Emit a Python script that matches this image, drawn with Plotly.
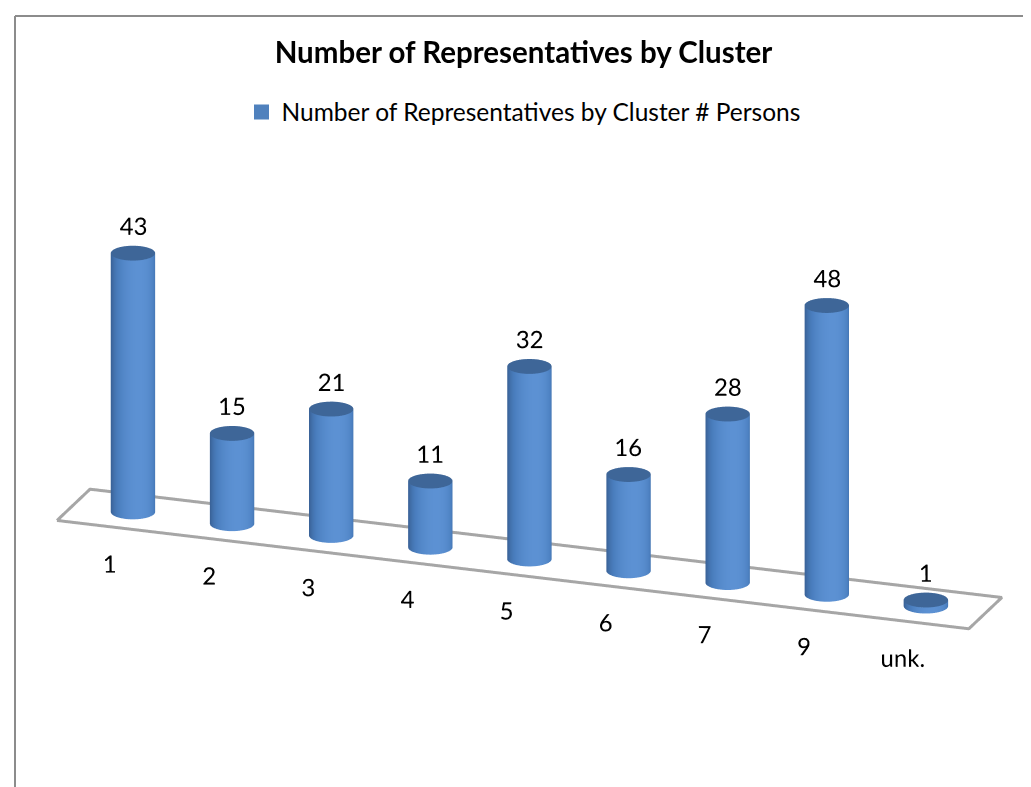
import numpy as np
import plotly.graph_objects as go

categories = ["1", "2", "3", "4", "5", "6", "7", "9", "unk."]
values = [43, 15, 21, 11, 32, 16, 28, 48, 1]
series_name = "Number of Representatives by Cluster # Persons"
title_text = "Number of Representatives by Cluster"

SIDE_SCALE = [[0, "#3A6399"], [0.55, "#4A7EBE"], [1, "#5C91D3"]]
CAP = "#3E6698"
FONT = "Lato"

# approx px per data unit, used only to keep the cylinders round
px_x, px_y, px_z = 104.2, 98.0, 6.33
REF = 984.4
xf = [-0.6, len(categories) - 0.4]      # floor extent
xr = [-0.9, 8.98]
yr = [-0.7, 1.1]
zr = [-14, 56]
wx = (xr[1] - xr[0]) * px_x
wy = (yr[1] - yr[0]) * px_y
wz = (zr[1] - zr[0]) * px_z
S = 3.08  # overall zoom (orthographic)

phi = np.radians(19.5)
th = np.radians(19.6)
R = 1.35

r_px = 22.0
rx, ry = r_px / px_x, r_px / px_y

fig = go.Figure()
t = np.linspace(0, 2 * np.pi, 96)
t_hi = -np.pi / 2 + phi + np.radians(15)
shade = np.clip(np.cos(t - t_hi), 0, 1)
for i, v in enumerate(values):
    cx, cy = i, 0.5
    X = np.vstack([cx + rx * np.cos(t)] * 2)
    Y = np.vstack([cy + ry * np.sin(t)] * 2)
    Z = np.vstack([np.zeros_like(t), np.full_like(t, v)])
    fig.add_trace(go.Surface(
        x=X, y=Y, z=Z, surfacecolor=np.vstack([shade, shade]),
        colorscale=SIDE_SCALE, cmin=0, cmax=1, showscale=False,
        hoverinfo="skip",
        lighting=dict(ambient=1.0, diffuse=0.0, specular=0.0, fresnel=0.0),
    ))
    rr = np.linspace(0, 1, 2)
    Xc = cx + np.outer(rr, rx * np.cos(t))
    Yc = cy + np.outer(rr, ry * np.sin(t))
    Zc = np.full_like(Xc, v)
    fig.add_trace(go.Surface(
        x=Xc, y=Yc, z=Zc, surfacecolor=np.ones_like(Zc),
        colorscale=[[0, CAP], [1, CAP]], cmin=0, cmax=1, showscale=False,
        hoverinfo="skip",
        lighting=dict(ambient=1.0, diffuse=0.0, specular=0.0),
    ))

# floor outline
fx = [xf[0], xf[1], xf[1], xf[0], xf[0]]
fy = [0, 0, 1, 1, 0]
fig.add_trace(go.Scatter3d(x=fx, y=fy, z=[0] * 5, mode="lines",
                           line=dict(color="#A6A6A6", width=6),
                           hoverinfo="skip", showlegend=False))

idx = list(range(len(categories)))
fig.add_trace(go.Scatter3d(x=idx, y=[0.5] * len(idx), z=[v + 4.5 for v in values],
                           mode="text", text=[str(v) for v in values],
                           textposition="middle center",
                           textfont=dict(family=FONT, size=24, color="black"),
                           hoverinfo="skip", showlegend=False))
fig.add_trace(go.Scatter3d(x=idx, y=[-0.2] * len(idx), z=[-5] * len(idx),
                           mode="text", text=categories,
                           textposition="middle center",
                           textfont=dict(family=FONT, size=24, color="black"),
                           hoverinfo="skip", showlegend=False))

fig.add_trace(go.Scatter3d(x=[None], y=[None], z=[None], mode="markers",
                           marker=dict(symbol="square", size=15, color="#4F81BD"),
                           name=series_name, showlegend=True))

ax = dict(visible=False, showbackground=False, showgrid=False, zeroline=False,
          showspikes=False)
fig.update_layout(
    width=1031, height=787,
    margin=dict(l=0, r=0, t=0, b=0),
    paper_bgcolor="white",
    title=dict(text="<b>" + title_text + "</b>", x=0.5, xanchor="center",
               y=1 - 45 / 787, yanchor="middle",
               font=dict(family=FONT, size=29.5, color="black")),
    legend=dict(orientation="h", x=0.5, xanchor="center", y=1 - 104 / 787,
                yanchor="middle", font=dict(family=FONT, size=24.5, color="black"),
                itemsizing="trace"),
    scene=dict(
        domain=dict(x=[0, 1], y=[0.038, 0.858]),
        xaxis=dict(ax, range=xr), yaxis=dict(ax, range=yr), zaxis=dict(ax, range=zr),
        aspectmode="manual",
        aspectratio=dict(x=S * wx / REF, y=S * wy / REF, z=S * wz / REF),
        bgcolor="white",
        camera=dict(
            eye=dict(x=R * np.sin(phi) * np.cos(th), y=-R * np.cos(phi) * np.cos(th),
                     z=R * np.sin(th)),
            up=dict(x=0, y=0, z=1),
            center=dict(x=0, y=0, z=0),
            projection=dict(type="orthographic"),
        ),
    ),
    shapes=[
        dict(type="line", xref="paper", yref="paper", x0=7 / 1031, x1=1,
             y0=1 - 8 / 787, y1=1 - 8 / 787, line=dict(color="#8C8C8C", width=2)),
        dict(type="line", xref="paper", yref="paper", x0=7 / 1031, x1=7 / 1031,
             y0=0, y1=1 - 8 / 787, line=dict(color="#8C8C8C", width=2)),
    ],
)
fig.write_html("out.html")
